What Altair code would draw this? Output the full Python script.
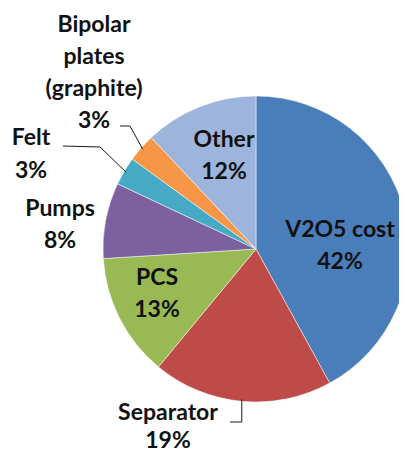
import math
import altair as alt
import pandas as pd

# ---- data ----
categories = ["V2O5 cost", "Separator", "PCS", "Pumps", "Felt",
              "Bipolar plates (graphite)", "Other"]
shares = [42, 19, 13, 8, 3, 3, 12]
name_lines = [["V2O5 cost"], ["Separator"], ["PCS"], ["Pumps"], ["Felt"],
              ["Bipolar", "plates", "(graphite)"], ["Other"]]
colors = ["#4A7EBB", "#BE4B48", "#98B954", "#7D60A0", "#46AAC5",
          "#F79646", "#9DB5DC"]

# ---- layout (page pixels) ----
W, H = 391, 446
CX, CY, R = 256, 249, 153
# label: (center x, first baseline, line height)
label_pos = {
    "V2O5 cost": (340, 237, 32),
    "Separator": (168, 420, 28),
    "PCS": (157, 285, 32),
    "Pumps": (60, 216, 32),
    "Felt": (31, 145, 33),
    "Bipolar plates (graphite)": (94, 32, 32),
    "Other": (224, 147, 32),
}
# leader lines: label-side points; the slice-side end comes from the data
leader_pts = {
    "Bipolar plates (graphite)": [(120, 126), (130, 126)],
    "Felt": [(63, 146), (100, 147)],
    "Separator": [(230, 422), (None, 422)],
}

total = sum(shares)
df = pd.DataFrame({"category": categories, "share": shares,
                   "idx": list(range(len(categories)))})

# text rows
trows = []
for cat, v, lines in zip(categories, shares, name_lines):
    x0, b0, lh = label_pos[cat]
    for i, t in enumerate(lines + [f"{v}%"]):
        trows.append({"category": cat, "text": t, "x": x0, "y": b0 + i * lh})
tdf = pd.DataFrame(trows)

# leader rows
lrows = []
cum = 0.0
for cat, v in zip(categories, shares):
    mid = (cum + v / 2) / total * 2 * math.pi
    cum += v
    if cat in leader_pts:
        ax = CX + (R - 2) * math.sin(mid)
        ay = CY - (R - 2) * math.cos(mid)
        pts = leader_pts[cat]
        for k, (px, py) in enumerate(pts):
            lrows.append({"lid": cat, "pt": k, "x": ax if px is None else px, "y": py})
        lrows.append({"lid": cat, "pt": len(pts), "x": ax, "y": ay})
ldf = pd.DataFrame(lrows)

xs = alt.Scale(domain=[8, 8 + W], nice=False, zero=False)
ys = alt.Scale(domain=[8 + H, 8], nice=False, zero=False)

arc = alt.Chart(df).mark_arc(outerRadius=R, stroke="#ffffff", strokeWidth=0.7,
                             strokeOpacity=0.7).encode(
    theta=alt.Theta("share:Q", stack=True),
    color=alt.Color("category:N", scale=alt.Scale(domain=categories, range=colors),
                    legend=None),
    order=alt.Order("idx:Q"),
    x=alt.value(CX - 8),
    y=alt.value(CY - 8),
)

leaders = alt.Chart(ldf).mark_line(color="#1a1a1a", strokeWidth=1).encode(
    x=alt.X("x:Q", scale=xs, axis=None),
    y=alt.Y("y:Q", scale=ys, axis=None),
    detail="lid:N",
    order="pt:Q",
)

texts = alt.Chart(tdf).mark_text(font="Lato", fontWeight="bold", fontSize=23,
                                 align="center", baseline="alphabetic",
                                 color="#111111").encode(
    x=alt.X("x:Q", scale=xs, axis=None),
    y=alt.Y("y:Q", scale=ys, axis=None),
    text="text:N",
)

chart = alt.layer(arc, leaders, texts).properties(
    width=W, height=H, autosize="none", padding=0, background="#ffffff"
).configure_view(stroke=None)

chart.save("out.html", embed_options={"renderer": "svg", "actions": False})
